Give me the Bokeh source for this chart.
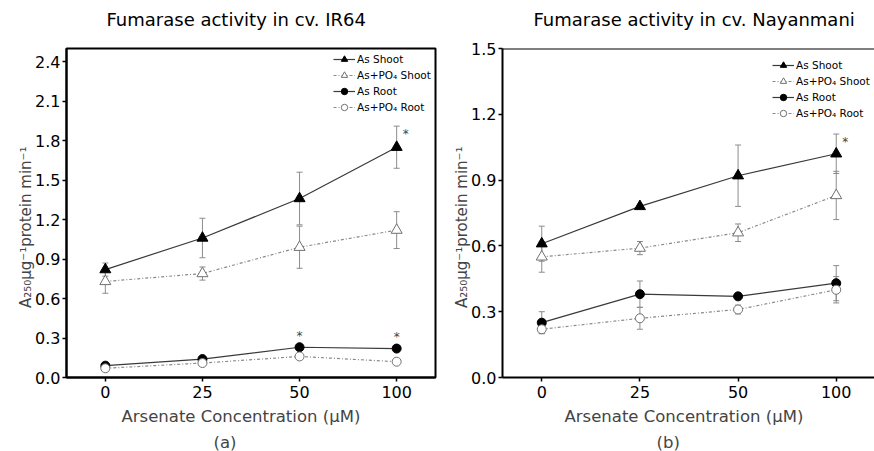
from bokeh.plotting import figure
from bokeh.layouts import row
from bokeh.models import (ColumnDataSource, Whisker, TeeHead, FixedTicker, Range1d,
                          Legend, LegendItem, Title, Span, NumeralTickFormatter)
from bokeh.core.properties import value
from bokeh.embed import file_html
from bokeh.resources import INLINE

# ---------------- data ----------------
conc = ["0", "25", "50", "100"]
series_names = ["As Shoot", "As+PO\u2084 Shoot", "As Root", "As+PO\u2084 Root"]

ir64_as_shoot = [0.82, 1.06, 1.36, 1.75]
ir64_as_shoot_err = [0.05, 0.15, 0.20, 0.16]
ir64_aspo4_shoot = [0.73, 0.79, 0.99, 1.12]
ir64_aspo4_shoot_err = [0.09, 0.05, 0.16, 0.14]
ir64_as_root = [0.09, 0.14, 0.23, 0.22]
ir64_as_root_err = [0.02, 0.02, 0.02, 0.02]
ir64_aspo4_root = [0.07, 0.11, 0.16, 0.12]
ir64_aspo4_root_err = [0.01, 0.02, 0.02, 0.02]
ir64_sig_shoot = [False, False, False, True]
ir64_sig_root = [False, False, True, True]

nay_as_shoot = [0.61, 0.78, 0.92, 1.02]
nay_as_shoot_err = [0.08, 0.01, 0.14, 0.09]
nay_aspo4_shoot = [0.55, 0.59, 0.66, 0.83]
nay_aspo4_shoot_err = [0.07, 0.03, 0.04, 0.11]
nay_as_root = [0.25, 0.38, 0.37, 0.43]
nay_as_root_err = [0.05, 0.06, 0.01, 0.08]
nay_aspo4_root = [0.22, 0.27, 0.31, 0.40]
nay_aspo4_root_err = [0.02, 0.05, 0.02, 0.06]
nay_sig_shoot = [False, False, False, True]
nay_sig_root = [False, False, False, False]

ir64_ticks = [0.0, 0.3, 0.6, 0.9, 1.2, 1.5, 1.8, 2.1, 2.4]
nay_ticks = [0.0, 0.3, 0.6, 0.9, 1.2, 1.5]

FONT = "DejaVu Sans"
YLABEL = "A\u2082\u2085\u2080\u00b5g\u207b\u00b9protein min\u207b\u00b9" + "\u00a0" * 6

STYLES = [
    dict(marker="triangle", fill="black", edge="black", line="#3a3a3a", dash="solid", size=11),
    dict(marker="triangle", fill="white", edge="#707070", line="#8a8a8a", dash="3 2 1 2", size=11),
    dict(marker="circle", fill="black", edge="black", line="#3a3a3a", dash="solid", size=9),
    dict(marker="circle", fill="white", edge="#707070", line="#8a8a8a", dash="3 2 1 2", size=9),
]


def make_panel(title, title_offset, ymax, yticks, data, sig_shoot, sig_root,
               xlabel_offset, letter, letter_offset, width, border_left,
               border_right, border_top, border_bottom, xend, legend_loc,
               full_frame):
    xs = list(range(len(conc)))
    p = figure(width=width, height=451, x_range=Range1d(-0.4, xend),
               y_range=Range1d(0, ymax), output_backend="svg",
               toolbar_location=None, min_border_left=border_left,
               min_border_right=border_right, min_border_top=border_top,
               min_border_bottom=border_bottom)
    p.xgrid.visible = False
    p.ygrid.visible = False
    p.background_fill_color = "white"
    if full_frame:
        p.outline_line_color = "black"
        p.outline_line_width = 2
        p.outline_line_alpha = 1
    else:
        p.outline_line_color = None
        p.add_layout(Span(location=ymax, dimension="width", line_color="black",
                          line_width=2))

    # gap between frame and title, then the title itself
    p.add_layout(Title(text="\u00a0", text_font_size="2px", standoff=12), "above")
    p.add_layout(Title(text=title, align="left", offset=title_offset,
                       text_font=FONT, text_font_size="18px",
                       text_font_style="normal", text_color="black",
                       standoff=6), "above")

    for ax in (p.xaxis[0], p.yaxis[0]):
        ax.axis_line_width = 2
        ax.axis_line_color = "black"
        ax.major_tick_in = 0
        ax.major_tick_out = 4
        ax.major_tick_line_width = 1.5
        ax.minor_tick_line_color = None
        ax.major_label_text_font = FONT
        ax.major_label_text_font_size = "16px"
        ax.major_label_text_color = "black"
        ax.major_label_standoff = 2

    p.xaxis.ticker = FixedTicker(ticks=xs)
    p.xaxis.major_label_overrides = {i: c for i, c in enumerate(conc)}
    p.xaxis.major_label_standoff = 4
    p.yaxis.ticker = FixedTicker(ticks=yticks)
    p.yaxis.formatter = NumeralTickFormatter(format="0.0")
    p.yaxis.axis_label = YLABEL
    p.yaxis.axis_label_text_font = FONT
    p.yaxis.axis_label_text_font_size = "15px"
    p.yaxis.axis_label_text_font_style = "normal"
    p.yaxis.axis_label_standoff = -3

    p.add_layout(Title(text="Arsenate Concentration (\u00b5M)", align="left",
                       offset=xlabel_offset, text_font=FONT,
                       text_font_size="16.5px", text_font_style="normal",
                       standoff=9), "below")
    p.add_layout(Title(text=letter, align="left", offset=letter_offset,
                       text_font=FONT, text_font_size="16.5px",
                       text_font_style="normal", standoff=0), "below")

    items = []
    for (vals, errs), st, name in zip(data, STYLES, series_names):
        src = ColumnDataSource(dict(
            x=xs, y=vals,
            upper=[v + e for v, e in zip(vals, errs)],
            lower=[v - e for v, e in zip(vals, errs)]))
        w = Whisker(source=src, base="x", upper="upper", lower="lower",
                    line_color="#8c8c8c", line_width=1, level="underlay",
                    upper_head=TeeHead(size=6, line_color="#8c8c8c", line_width=1),
                    lower_head=TeeHead(size=6, line_color="#8c8c8c", line_width=1))
        p.add_layout(w)
        lr = p.line("x", "y", source=src, line_color=st["line"], line_width=1.2,
                    line_dash=st["dash"])
        sr = p.scatter("x", "y", source=src, marker=st["marker"], size=st["size"],
                       fill_color=st["fill"], line_color=st["edge"], line_width=1)
        items.append(LegendItem(label=name, renderers=[lr, sr]))

    # significance asterisks
    shoot_vals, shoot_errs = data[0]
    root_vals, root_errs = data[2]
    sx = [x for x, s in zip(xs, sig_shoot) if s]
    sy = [v + e for v, e, s in zip(shoot_vals, shoot_errs, sig_shoot) if s]
    if sx:
        p.text(x=sx, y=sy, text=["*"] * len(sx), x_offset=9, y_offset=8,
               text_font=value(FONT), text_font_size="12px", text_color="#444444",
               text_align="center", text_baseline="middle")
    rx = [x for x, s in zip(xs, sig_root) if s]
    ry = [v + e for v, e, s in zip(root_vals, root_errs, sig_root) if s]
    if rx:
        p.text(x=rx, y=ry, text=["*"] * len(rx), x_offset=0, y_offset=-9,
               text_font=value(FONT), text_font_size="12px", text_color="#444444",
               text_align="center", text_baseline="middle")

    legend = Legend(items=items, location=legend_loc, orientation="vertical",
                    label_text_font=FONT, label_text_font_size="10.5px",
                    label_text_color="black", glyph_width=22, glyph_height=16,
                    label_height=16, label_standoff=2, spacing=0, padding=2,
                    margin=0, border_line_color=None, background_fill_alpha=0)
    p.add_layout(legend)
    return p


left = make_panel("Fumarase activity in cv. IR64", 40, 2.5, ir64_ticks,
                  [(ir64_as_shoot, ir64_as_shoot_err),
                   (ir64_aspo4_shoot, ir64_aspo4_shoot_err),
                   (ir64_as_root, ir64_as_root_err),
                   (ir64_aspo4_root, ir64_aspo4_root_err)],
                  ir64_sig_shoot, ir64_sig_root, 55, "(a)", 147,
                  440, 66, 5, 48, 73, 3.4, (267, 262), True)

right = make_panel("Fumarase activity in cv. Nayanmani", 31, 1.5, nay_ticks,
                   [(nay_as_shoot, nay_as_shoot_err),
                    (nay_aspo4_shoot, nay_aspo4_shoot_err),
                    (nay_as_root, nay_as_root_err),
                    (nay_aspo4_root, nay_aspo4_root_err)],
                   nay_sig_shoot, nay_sig_root, 62, "(b)", 154,
                   434, 62, 0, 46, 74, 3.39, (270, 256), False)

layout = row(left, right)
open("out.html", "w").write(file_html(layout, INLINE))
